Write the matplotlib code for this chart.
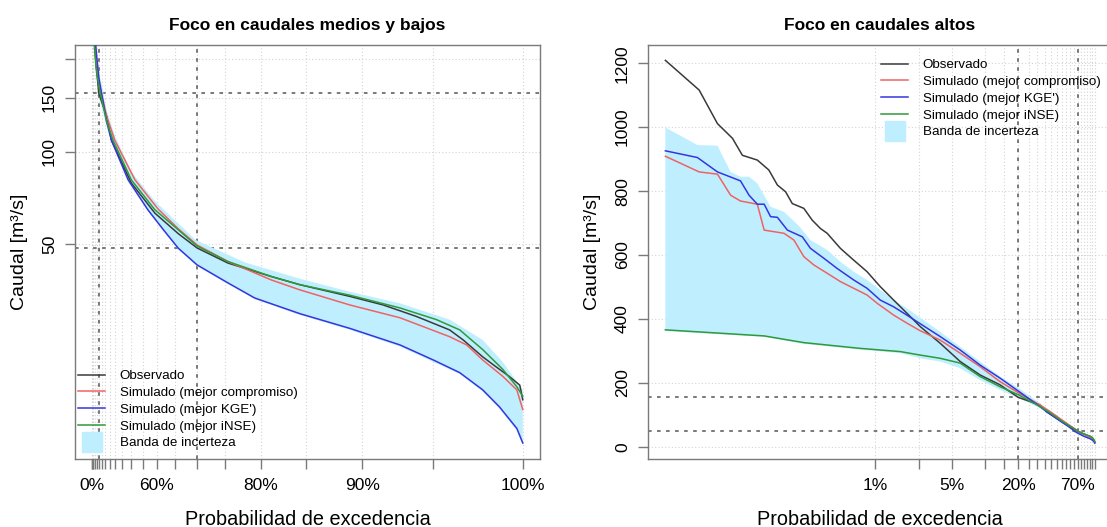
import numpy as np
import matplotlib
matplotlib.use("Agg")
import matplotlib.pyplot as plt
from matplotlib.lines import Line2D
from matplotlib.ticker import FixedLocator, NullLocator, NullFormatter

plt.rcParams['font.family'] = ['Liberation Sans', 'DejaVu Sans']

# ---------------- data (exceedance probability in %, flow in m3/s) -------------
obs_p = [0.0122, 0.0248, 0.0364, 0.0499, 0.0614, 0.0841, 0.107, 0.128, 0.152, 0.175,
         0.223, 0.266, 0.316, 0.364, 0.48, 0.635, 0.84, 1.11, 1.47, 1.94, 2.57, 3.9,
         5.93, 9.0, 13.7, 20.0, 31.6, 36.7, 50.0, 59.4, 65.9, 70.0, 75.4, 81.3, 84.4,
         89.0, 91.6, 93.9, 96.0, 96.8, 97.9, 98.6, 99.3, 99.85, 100.0]
obs_q = [1209, 1116, 1011, 965, 912, 897, 866, 819, 798, 761,
         746, 709, 683, 668, 621, 584, 548, 501, 459, 418, 376, 324,
         267, 225, 194, 155, 131, 109, 79, 63, 54, 48.5, 43.3, 39.1, 36.8,
         33.7, 31.6, 29.0, 26.2, 24.3, 21.4, 19.9, 18.5, 17.3, 15.5]

comp_p = [0.0122, 0.0248, 0.0364, 0.048, 0.059, 0.084, 0.097, 0.147, 0.181, 0.223,
          0.275, 0.364, 0.48, 0.635, 0.84, 1.04, 1.47, 1.94, 2.57, 3.9, 5.93, 9.0,
          13.7, 20.4, 31.6, 39.6, 51.7, 60.4, 65.9, 70.0, 75.4, 81.3, 84.4, 89.0,
          92.8, 96.0, 97.0, 97.9, 98.97, 99.7, 100.0]
comp_q = [909, 860, 853, 787, 769, 759, 678, 668, 647, 595,
          569, 543, 517, 496, 475, 449, 412, 387, 363, 334, 293, 251,
          204, 168, 131, 109, 81, 65, 56, 49.6, 43.8, 38.1, 35.4, 31.6,
          28.7, 24.9, 23.4, 20.9, 18.5, 16.7, 14.4]

kge_p = [0.0122, 0.0239, 0.0364, 0.059, 0.0707, 0.084, 0.097, 0.111, 0.128, 0.158,
         0.216, 0.256, 0.339, 0.449, 0.635, 0.84, 1.11, 1.47, 1.94, 2.57, 3.9, 5.93,
         9.0, 13.7, 20.4, 31.6, 36.7, 48.3, 57.0, 62.0, 65.9, 70.0, 75.4, 79.2, 84.4,
         89.0, 92.8, 95.0, 96.6, 97.9, 98.8, 99.7, 100.0]
kge_q = [926, 905, 860, 832, 787, 759, 759, 720, 718, 678,
         657, 621, 590, 558, 522, 496, 459, 438, 412, 385, 345, 303,
         256, 215, 173, 126, 109, 81, 64.6, 55.6, 48.4, 42.7, 37.3, 33.3, 29.6,
         26.5, 23.4, 20.9, 19.0, 16.7, 14.7, 12.5, 11.2]

inse_p = [0.0122, 0.097, 0.223, 0.73, 1.69, 2.57, 3.9, 5.93, 9.0, 13.7, 20.4, 31.6,
          38.1, 50.0, 59.4, 65.9, 70.0, 75.4, 81.3, 84.4, 89.0, 92.8, 95.2, 96.6,
          97.9, 98.97, 99.7, 100.0]
inse_q = [366, 347, 326, 308, 298, 287, 277, 262, 220, 188, 162, 126,
          109, 80.9, 64.6, 55.6, 49.2, 43.8, 39.1, 36.8, 34.0, 30.9, 28.3, 26.2,
          22.6, 19.5, 17.1, 15.9]

band_up_p = [0.0122, 0.0239, 0.0364, 0.048, 0.059, 0.0707, 0.084, 0.111, 0.147, 0.2,
             0.256, 0.364, 0.48, 0.635, 0.84, 1.11, 1.47, 1.94, 2.57, 3.9, 5.93, 9.0,
             13.7, 20.4, 31.6, 39.6, 50.0, 59.4, 69.7, 77.9, 84.4, 89.0, 92.8, 96.0,
             97.9, 98.97, 100.0]
band_up_q = [999, 944, 942, 860, 845, 845, 824, 751, 735, 692,
             647, 616, 579, 548, 522, 491, 459, 433, 404, 360, 313, 267,
             220, 183, 137, 113, 86, 69, 51.5, 43.5, 38.5, 34.9, 32.0, 28.3,
             24.3, 20.6, 16.7]

band_lo_p = [0.0122, 0.097, 0.223, 0.73, 1.69, 2.57, 3.9, 5.93, 9.0, 13.7, 20.4, 31.6,
             36.7, 48.3, 57.0, 62.0, 65.9, 70.0, 75.4, 79.2, 84.4, 89.0, 92.8, 95.0,
             96.6, 97.9, 98.8, 99.7, 100.0]
band_lo_q = [362, 344, 322, 304, 293, 277, 267, 246, 209, 178, 152, 121,
             107, 80, 64, 55, 48, 42.3, 37, 33, 29.3, 26.2, 23.1, 20.6,
             18.8, 16.5, 14.5, 12.3, 11.0]

ref_p = [20, 70]          # reference exceedance probabilities
ref_q = [155, 48.5]       # observed flow at those probabilities

tick_p = [0, 1, 2.5, 5] + list(range(10, 101, 5))
left_labels = {0: "0%", 60: "60%", 80: "80%", 90: "90%", 100: "100%"}
right_labels = {1: "1%", 5: "5%", 20: "20%", 70: "70%"}

# ---------------- styling -----------------
c_obs = "#3a3a3a"
c_comp = "#f06262"
c_kge = "#3535e0"
c_inse = "#2f9a3a"
c_band = "#bfefff"
c_axis = "#7a7a7a"
lw = 1.1

W, H = 1107, 527
fig = plt.figure(figsize=(W / 100, H / 100), dpi=100)


def rect(x0, x1, ytop, ybot):
    return [x0 / W, 1 - ybot / H, (x1 - x0) / W, (ybot - ytop) / H]


axL = fig.add_axes(rect(75, 540, 45, 459))
axR = fig.add_axes(rect(648, 1112, 45, 459))


def u(p):
    """Left-panel abscissa: 100^(p/100) (stretch towards low flows)."""
    return 10 ** (np.asarray(p, dtype=float) / 50.0)


def style_axes(ax):
    for s in ax.spines.values():
        s.set_color(c_axis)
        s.set_linewidth(1.0)
    ax.tick_params(axis='both', colors=c_axis, labelcolor='black', length=7,
                   width=1.0, labelsize=12.5, pad=7)
    ax.tick_params(axis='y', pad=6)


grid_kw = dict(color="#d4d4d4", lw=0.8, ls=(0, (1, 2)), zorder=0)
ref_kw = dict(color="#6e6e6e", lw=1.3, ls=(0, (2, 3)), zorder=1)

series = [(obs_p, obs_q, c_obs, "Observado"),
          (comp_p, comp_q, c_comp, "Simulado (mejor compromiso)"),
          (kge_p, kge_q, c_kge, "Simulado (mejor KGE')"),
          (inse_p, inse_q, c_inse, "Simulado (mejor iNSE)")]


def draw(ax, xf):
    # uncertainty band
    pu, qu = np.asarray(band_up_p), np.asarray(band_up_q)
    pl, ql = np.asarray(band_lo_p), np.asarray(band_lo_q)
    xs = np.concatenate([xf(pu), xf(pl[::-1])])
    ys = np.concatenate([qu, ql[::-1]])
    ax.fill(xs, ys, color=c_band, lw=0, zorder=2)
    order = [0, 2, 3, 1]
    for i in order:
        p, q, c, lab = series[i]
        ax.plot(xf(p), q, color=c, lw=lw, zorder=3 + i)


title_kw = dict(fontsize=12.5, fontweight='bold', pad=11)
xlab_kw = dict(fontsize=14.3, labelpad=12)
ylab_kw = dict(fontsize=14, labelpad=10)

# ---------------- left panel -----------------
style_axes(axL)
axL.set_yscale('log')
ytL = [50, 100, 150, 200]
for y in ytL:
    axL.axhline(y, **grid_kw)
for p in tick_p:
    axL.axvline(u(p), **grid_kw)
for y in ref_q:
    axL.axhline(y, **ref_kw)
for p in ref_p:
    axL.axvline(u(p), **ref_kw)
draw(axL, u)
axL.set_xlim(-2.96, 103.96)
axL.set_ylim(9.93, 223)
axL.xaxis.set_major_locator(FixedLocator(u(tick_p)))
axL.set_xticklabels([left_labels.get(p, "") for p in tick_p])
axL.yaxis.set_major_locator(FixedLocator(ytL))
axL.yaxis.set_minor_locator(NullLocator())
axL.yaxis.set_minor_formatter(NullFormatter())
axL.set_yticklabels(["50", "100", "150", ""])
for t in axL.get_yticklabels():
    t.set_rotation(90)
    t.set_va('center')
axL.set_title("Foco en caudales medios y bajos", **title_kw)
axL.set_xlabel("Probabilidad de excedencia", **xlab_kw)
axL.set_ylabel("Caudal [m³/s]", **ylab_kw)

# ---------------- right panel -----------------
style_axes(axR)
axR.set_xscale('log')
tick_pR = [p for p in tick_p if p > 0]
ytR = list(range(0, 1201, 200))
for y in ytR:
    axR.axhline(y, **grid_kw)
for p in tick_pR:
    axR.axvline(p, **grid_kw)
for y in ref_q:
    axR.axhline(y, **ref_kw)
for p in ref_p:
    axR.axvline(p, **ref_kw)
draw(axR, lambda p: np.asarray(p, dtype=float))
axR.set_xlim(10 ** -2.072, 10 ** 2.157)
axR.set_ylim(-38, 1257)
axR.xaxis.set_major_locator(FixedLocator(tick_pR))
axR.xaxis.set_minor_locator(NullLocator())
axR.xaxis.set_minor_formatter(NullFormatter())
axR.set_xticklabels([right_labels.get(p, "") for p in tick_pR])
axR.yaxis.set_major_locator(FixedLocator(ytR))
axR.set_yticklabels([str(v) for v in ytR])
for t in axR.get_yticklabels():
    t.set_rotation(90)
    t.set_va('center')
axR.set_title("Foco en caudales altos", **title_kw)
axR.set_xlabel("Probabilidad de excedencia", **xlab_kw)
axR.set_ylabel("Caudal [m³/s]", **ylab_kw)

# ---------------- legends -----------------
handles = [Line2D([], [], color=c, lw=lw) for (_, _, c, _) in series]
handles.append(Line2D([], [], marker='s', ms=14, ls='none', mfc=c_band, mec=c_band))
labels = [s[3] for s in series] + ["Banda de incerteza"]
leg_kw = dict(frameon=False, fontsize=9.6, handlelength=2.0, handletextpad=1.1,
              labelspacing=0.33, borderpad=0, borderaxespad=0, loc='upper left')
axL.legend(handles, labels, bbox_to_anchor=(0.007, 0.215), **leg_kw)
axR.legend(handles, labels, bbox_to_anchor=(0.503, 0.966), **leg_kw)

fig.savefig("out.png", dpi=100)
